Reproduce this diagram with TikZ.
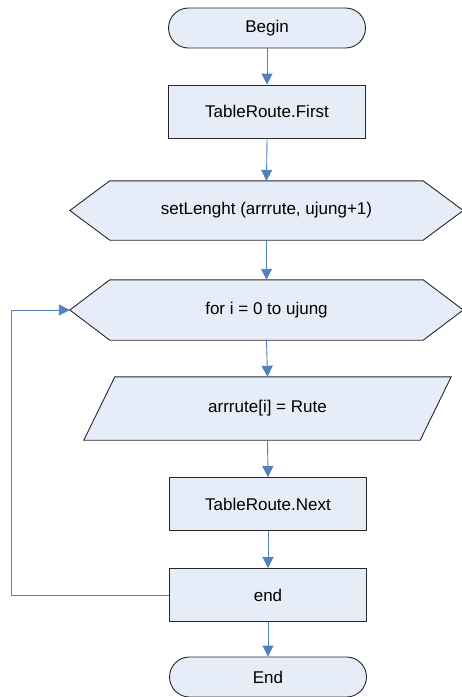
\documentclass[tikz,border=0pt]{standalone}
\usepackage{fontspec}
\setmainfont{Liberation Sans}
\usetikzlibrary{arrows.meta,shapes.misc,backgrounds}
\definecolor{boxfill}{RGB}{230,236,248}
\definecolor{flowblue}{RGB}{79,129,189}
\definecolor{boxline}{RGB}{40,40,40}
\begin{document}
\begin{tikzpicture}[x=1pt,y=-1pt,
  every node/.style={font=\fontsize{17}{20}\selectfont, inner sep=0pt},
  terminal/.style={rounded rectangle, draw=boxline, fill=boxfill, line width=0.9pt,
    minimum width=197pt, minimum height=40pt},
  process/.style={rectangle, draw=boxline, fill=boxfill, line width=0.9pt,
    minimum width=197pt, minimum height=53pt},
  frame/.style={rectangle, draw=none, minimum width=#1, minimum height=60pt},
  outline/.style={draw=boxline, fill=boxfill, line width=0.9pt},
  flow/.style={draw=flowblue, line width=0.9pt, -{Triangle[length=11pt,width=11pt]}}
]
\useasboundingbox (0,0) rectangle (462,697);

% nodes
\node[terminal] (begin) at (267,28) {Begin};
\node[process] (first) at (267,111.5) {TableRoute.First};
\node[frame=393pt, minimum height=59pt] (setlen) at (266.5,210.5) {setLenght (arrrute, ujung+1)};
\node[frame=393pt, minimum height=60pt] (loop) at (266.5,310) {for i = 0 to ujung};
\node[frame=367pt, minimum height=63pt] (assign) at (267.5,408.5) {arrrute[i] = Rute};
\node[process] (next) at (268,504) {TableRoute.Next};
\node[process] (endloop) at (268,595) {end};
\node[terminal] (finish) at (268,677) {End};

% outlines of the hexagons and the parallelogram, behind their texts
\begin{scope}[on background layer]
  \foreach \h in {setlen,loop}{
    \draw[outline] (\h.west) -- ([xshift=40pt]\h.north west) -- ([xshift=-40pt]\h.north east)
      -- (\h.east) -- ([xshift=-40pt]\h.south east) -- ([xshift=40pt]\h.south west) -- cycle;
  }
  \draw[outline] (assign.south west) -- ([xshift=31pt]assign.north west) -- (assign.north east)
    -- ([xshift=-31pt]assign.south east) -- cycle;
\end{scope}

% connectors
\draw[flow] (begin.south) -- (first.north);
\draw[flow] (first.south) -- (setlen.north);
\draw[flow] (setlen.south) -- (loop.north);
\draw[flow] (loop.south) -- (assign.north);
\draw[flow] (assign.south) -- (next.north);
\draw[flow] (next.south) -- (endloop.north);
\draw[flow] (endloop.south) -- (finish.north);
\coordinate (back) at (11.5,0);
\draw[flow] (endloop.west) -- (endloop.west -| back) -- (loop.west -| back) -- (loop.west);
\end{tikzpicture}
\end{document}
